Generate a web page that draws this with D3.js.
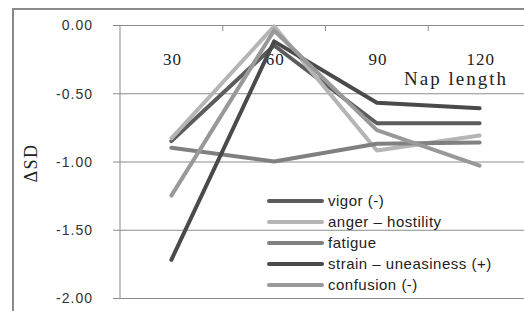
<!DOCTYPE html>
<html><head><meta charset="utf-8">
<script src="https://cdn.jsdelivr.net/npm/d3@7"></script>
<style>
html,body{margin:0;padding:0;background:#fff;}
svg{display:block;}
</style></head>
<body>
<svg id="chart" width="524" height="311"></svg>
<script>
const categories = ["30", "60", "90", "120"];
const seriesNames = ["vigor (-)", "anger – hostility", "fatigue", "strain – uneasiness (+)", "confusion (-)"];
const vigor = [-0.85, -0.15, -0.72, -0.72];
const anger = [-0.83, -0.01, -0.92, -0.81];
const fatigue = [-0.90, -1.00, -0.87, -0.86];
const strain = [-1.72, -0.12, -0.57, -0.61];
const confusion = [-1.25, -0.04, -0.77, -1.03];
const yTicks = [0, -0.5, -1.0, -1.5, -2.0];
const seriesColors = ["#5c5c5c", "#b5b5b5", "#808080", "#4a4a4a", "#999999"];

(function () {
const series = [vigor, anger, fatigue, strain, confusion].map((v, i) => ({name: seriesNames[i], values: v, color: seriesColors[i]}));

const svg = d3.select("#chart");
const pl = 120, pr = 531, pt = 25, pb = 298;

const x = d3.scaleBand().domain(categories).range([pl, pr]);
const y = d3.scaleLinear().domain([-2, 0]).range([pb, pt]);

// outer frame
svg.append("path").attr("d", "M13,311 L13,9 L524,9").attr("fill", "none").attr("stroke", "#8a8a8a").attr("stroke-width", 2);

// gridlines with outside ticks
const yAxis = d3.axisLeft(y).tickValues(yTicks).tickSize(0).tickFormat(d => d.toFixed(2)).tickPadding(0);
const gy = svg.append("g").attr("transform", `translate(${pl - 7},0)`).call(yAxis);
gy.select(".domain").remove();
gy.selectAll(".tick line").attr("stroke", "#8c8c8c").attr("stroke-width", 1).attr("x1", 0).attr("x2", pr - pl + 7);
gy.selectAll(".tick text").attr("x", -20).attr("fill", "#333")
  .style("font-family", "'Liberation Sans', Arial, sans-serif").style("font-size", "14px").style("letter-spacing", "1px")
  .attr("dy", "0.35em");

// y axis vertical line
svg.append("line").attr("x1", pl).attr("x2", pl).attr("y1", pt).attr("y2", pb).attr("stroke", "#8c8c8c").attr("stroke-width", 1);

// category axis at y=0 with inner ticks at boundaries
const boundaries = categories.map(c => x(c)).slice(1);
svg.selectAll(".xtick").data(boundaries).enter().append("line")
  .attr("x1", d => d).attr("x2", d => d).attr("y1", y(0)).attr("y2", y(0) + 6)
  .attr("stroke", "#8c8c8c");
svg.selectAll(".xlabel").data(categories).enter().append("text")
  .attr("x", d => x(d) + x.bandwidth() / 2 + 1).attr("y", 65)
  .attr("text-anchor", "middle").attr("fill", "#222")
  .style("font-family", "'Liberation Serif', 'DejaVu Serif', serif").style("font-size", "17px").style("letter-spacing", "1px")
  .text(d => d);

// axis titles
svg.append("text").attr("x", 456).attr("y", 85).attr("text-anchor", "middle").attr("fill", "#222")
  .style("font-family", "'Liberation Serif', 'DejaVu Serif', serif").style("font-size", "19px").style("letter-spacing", "2px")
  .text("Nap length");
svg.append("text").attr("transform", "translate(37,163) rotate(-90)").attr("text-anchor", "middle").attr("fill", "#222")
  .style("font-family", "'Liberation Serif', 'DejaVu Serif', serif").style("font-size", "18px").style("letter-spacing", "1.5px")
  .text("ΔSD");

// lines
const line = d3.line().x((d, i) => x(categories[i]) + x.bandwidth() / 2).y(d => y(d));
svg.selectAll(".series").data(series).enter().append("path")
  .attr("d", d => line(d.values)).attr("fill", "none").attr("stroke", d => d.color)
  .attr("stroke-width", 4).attr("stroke-linecap", "round").attr("stroke-linejoin", "round");

// legend
const lg = svg.append("g");
series.forEach((s, i) => {
  const yy = 201 + i * 21;
  lg.append("line").attr("x1", 269).attr("x2", 322).attr("y1", yy).attr("y2", yy)
    .attr("stroke", s.color).attr("stroke-width", 4).attr("stroke-linecap", "round");
  lg.append("text").attr("x", 328).attr("y", yy).attr("dy", "0.35em").attr("fill", "#222")
    .style("font-family", "'Liberation Sans', Arial, sans-serif").style("font-size", "15px").style("letter-spacing", "0.5px")
    .text(s.name);
});
})();
</script>
</body></html>
